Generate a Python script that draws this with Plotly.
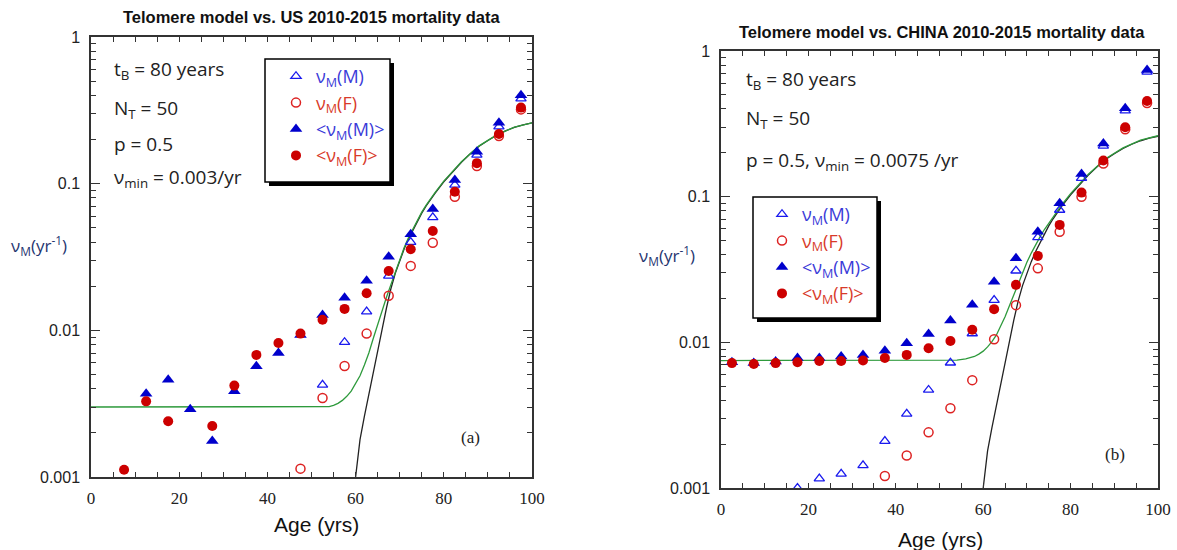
import plotly.graph_objects as go

W, H = 1177, 550

ages = [2.5, 7.5, 12.5, 17.5, 22.5, 27.5, 32.5, 37.5, 42.5, 47.5,
        52.5, 57.5, 62.5, 67.5, 72.5, 77.5, 82.5, 87.5, 92.5, 97.5]

# ---- US 2010-2015 ----
us_nu_m = [None, None, None, None, None, None, None, None, None, None,
           0.00425, 0.0083, 0.0134, 0.0235, 0.040, 0.059, 0.098, 0.157, 0.245, 0.38]
us_nu_f = [None, None, None, None, None, None, None, None, None, 0.00114,
           0.00346, 0.00572, 0.0095, 0.0172, 0.0275, 0.0396, 0.0815, 0.132, 0.211, 0.321]
us_avg_m = [None, None, 0.0037, 0.0046, 0.0029, 0.00176, 0.00385, 0.0057, 0.0070, 0.0093,
            0.0127, 0.0167, 0.0218, 0.0318, 0.0452, 0.0672, 0.106, 0.165, 0.26, 0.40]
us_avg_f = [None, 0.00112, 0.00328, 0.0024, None, 0.00223, 0.0042, 0.0068, 0.0082, 0.0095,
            0.0118, 0.014, 0.0179, 0.0254, 0.0357, 0.0476, 0.088, 0.138, 0.218, 0.33]

# ---- CHINA 2010-2015 ----
cn_nu_m = [None, None, None, 0.0010, 0.00116, 0.00125, 0.00143, 0.0021, 0.00323, 0.00471,
           0.00724, 0.0115, 0.0195, 0.031, 0.0526, 0.081, 0.134, 0.223, 0.39, 0.72]
cn_nu_f = [None, None, None, None, None, None, None, 0.00121, 0.00167, 0.00241,
           0.00353, 0.0055, 0.0105, 0.018, 0.0322, 0.0575, 0.100, 0.169, 0.29, 0.44]
cn_avg_m = [0.0073, 0.0072, 0.0074, 0.0078, 0.0078, 0.0080, 0.0082, 0.00877, 0.00986, 0.0114,
            0.0141, 0.0181, 0.0261, 0.0378, 0.0575, 0.090, 0.143, 0.232, 0.404, 0.74]
cn_avg_f = [0.0072, 0.0071, 0.0072, 0.0073, 0.00745, 0.00745, 0.0075, 0.0078, 0.0082, 0.0091,
            0.0102, 0.0122, 0.0169, 0.0248, 0.0392, 0.064, 0.1066, 0.177, 0.30, 0.454]

# ---- model curves ----
black_t = [60, 61, 62, 63, 64, 65, 66, 67, 68, 69, 70, 71, 72, 73, 74, 75, 76, 77, 78,
           80, 82, 84, 86, 88, 90, 92, 94, 96, 98, 100]
black_v = [0.001, 0.0018, 0.0026, 0.0036, 0.0051, 0.0072, 0.0101, 0.0142, 0.0192, 0.0245,
           0.030, 0.0358, 0.042, 0.0485, 0.0555, 0.063, 0.0705, 0.078, 0.086,
           0.103, 0.12, 0.14, 0.16, 0.18, 0.197, 0.214, 0.229, 0.242, 0.252, 0.26]

us_green_t = [0, 53, 54, 55, 56, 57, 58, 59, 60, 61, 62, 63, 64, 65, 66, 67, 68, 69, 70,
              71, 72, 73, 74, 75, 76, 77, 78, 80, 84, 88, 92, 96, 100]
us_green_v = [0.003, 0.003, 0.00302, 0.00308, 0.00318, 0.00333, 0.00355, 0.00385, 0.0043,
              0.0049, 0.0058, 0.0070, 0.0088, 0.0110, 0.0138, 0.0168, 0.0205, 0.025, 0.0305,
              0.0365, 0.043, 0.0495, 0.0565, 0.064, 0.0715, 0.079, 0.087, 0.104, 0.141,
              0.181, 0.215, 0.243, 0.26]

cn_green_t = [0, 52, 54, 56, 58, 59, 60, 61, 62, 63, 64, 65, 66, 67, 68, 69, 70, 71, 72,
              73, 74, 75, 76, 77, 78, 80, 84, 88, 92, 96, 100]
cn_green_v = [0.0075, 0.0075, 0.00755, 0.0077, 0.0080, 0.0083, 0.0087, 0.0093, 0.0101,
              0.0112, 0.0128, 0.015, 0.0178, 0.0212, 0.0253, 0.030, 0.0355, 0.041, 0.047,
              0.053, 0.0595, 0.066, 0.073, 0.080, 0.088, 0.105, 0.142, 0.182, 0.216,
              0.244, 0.262]

y_ticks = [0.001, 0.01, 0.1, 1]
y_tick_text = ["0.001", "0.01", "0.1", "1"]
y_minor = [m * d for d in (0.001, 0.01, 0.1) for m in range(2, 10)]

BLUE = "#0000cc"
RED = "#cc0000"
OBLUE = "#1a1aee"
ORED = "#dd2222"
GREEN = "#2e9a3c"
TXT_BLUE = "#3a3ad8"
TXT_RED = "#d83a2a"


def X(px):
    return px / W


def Y(py):
    return 1 - py / H


fig = go.Figure()


def add_panel(xa, ya, legend, green_t, green_v, nm, nf, am, af):
    fig.add_trace(go.Scatter(x=black_t, y=black_v, mode="lines",
                             line=dict(color="#222222", width=1.3),
                             xaxis=xa, yaxis=ya, showlegend=False, hoverinfo="skip"))
    fig.add_trace(go.Scatter(x=green_t, y=green_v, mode="lines",
                             line=dict(color=GREEN, width=1.3),
                             xaxis=xa, yaxis=ya, showlegend=False, hoverinfo="skip"))
    fig.add_trace(go.Scatter(
        x=ages, y=nm, mode="markers", xaxis=xa, yaxis=ya, legend=legend,
        name=f"<span style='color:{TXT_BLUE}'>ν<sub>M</sub>(M)</span>",
        marker=dict(symbol="triangle-up-open", size=9, color=OBLUE, line=dict(width=1.3))))
    fig.add_trace(go.Scatter(
        x=ages, y=nf, mode="markers", xaxis=xa, yaxis=ya, legend=legend,
        name=f"<span style='color:{TXT_RED}'>ν<sub>M</sub>(F)</span>",
        marker=dict(symbol="circle-open", size=9, color=ORED, line=dict(width=1.5))))
    fig.add_trace(go.Scatter(
        x=ages, y=am, mode="markers", xaxis=xa, yaxis=ya, legend=legend,
        name=f"<span style='color:{TXT_BLUE}'>&lt;ν<sub>M</sub>(M)&gt;</span>",
        marker=dict(symbol="triangle-up", size=11, color=BLUE)))
    fig.add_trace(go.Scatter(
        x=ages, y=af, mode="markers", xaxis=xa, yaxis=ya, legend=legend,
        name=f"<span style='color:{TXT_RED}'>&lt;ν<sub>M</sub>(F)&gt;</span>",
        marker=dict(symbol="circle", size=10, color=RED)))


add_panel("x", "y", "legend", us_green_t, us_green_v, us_nu_m, us_nu_f, us_avg_m, us_avg_f)
add_panel("x2", "y2", "legend2", cn_green_t, cn_green_v, cn_nu_m, cn_nu_f, cn_avg_m, cn_avg_f)


def xaxis(domain, anchor):
    return dict(domain=domain, anchor=anchor, range=[0, 100], dtick=20, tick0=0,
                automargin=False,
                ticks="inside", ticklen=5, tickwidth=1, tickcolor="#333",
                minor=dict(dtick=5, ticks="inside", ticklen=5, tickcolor="#333"),
                showline=True, linecolor="#333", linewidth=1.5, mirror="allticks",
                showgrid=False, zeroline=False, ticklabelstandoff=5,
                tickfont=dict(family="Liberation Serif", size=17, color="#222"))


def yaxis(domain, anchor):
    return dict(domain=domain, anchor=anchor, type="log", range=[-3, 0],
                automargin=False,
                tickvals=y_ticks, ticktext=y_tick_text,
                ticks="inside", ticklen=9, tickwidth=1, tickcolor="#333",
                minor=dict(tickvals=y_minor, ticks="inside", ticklen=5, tickcolor="#333"),
                showline=True, linecolor="#333", linewidth=1.5, mirror="allticks",
                showgrid=False, zeroline=False, ticklabelstandoff=6,
                tickfont=dict(family="Liberation Sans", size=16, color="#222"))


fig.update_layout(
    width=W, height=H, margin=dict(l=0, r=0, t=0, b=0, autoexpand=False),
    paper_bgcolor="white", plot_bgcolor="white",
    xaxis=xaxis([X(91), X(532)], "y"),
    yaxis=yaxis([Y(477), Y(37)], "x"),
    xaxis2=xaxis([X(721), X(1158)], "y2"),
    yaxis2=yaxis([Y(488), Y(51)], "x2"),
    legend=dict(x=X(276), y=Y(58), xanchor="left", yanchor="top",
                bgcolor="rgba(0,0,0,0)", borderwidth=0,
                font=dict(family="Open Sans", size=18)),
    legend2=dict(x=X(762), y=Y(196), xanchor="left", yanchor="top",
                 bgcolor="rgba(0,0,0,0)", borderwidth=0,
                 font=dict(family="Open Sans", size=18)),
    showlegend=True,
)

shapes = []
for (x0, y0, x1, y1) in [(265, 59, 390, 182), (753, 197, 877, 318)]:
    shapes.append(dict(type="rect", xref="paper", yref="paper",
                       x0=X(x0 + 4), x1=X(x1 + 4), y0=Y(y1 + 4), y1=Y(y0 + 4),
                       fillcolor="black", line=dict(width=0), layer="above"))
    shapes.append(dict(type="rect", xref="paper", yref="paper",
                       x0=X(x0), x1=X(x1), y0=Y(y1), y1=Y(y0),
                       fillcolor="white", line=dict(color="black", width=1.5), layer="above"))
fig.update_layout(shapes=shapes)

ann = []


def text(px, py, s, size=19, family="Open Sans", color="#222", xanchor="left", bold=False):
    if bold:
        s = f"<b>{s}</b>"
    ann.append(dict(x=X(px), y=Y(py), xref="paper", yref="paper", text=s, showarrow=False,
                    xanchor=xanchor, yanchor="middle",
                    font=dict(family=family, size=size, color=color)))


# titles
text(311, 17, "Telomere model vs. US 2010-2015 mortality data", size=16.5,
     family="Liberation Sans", xanchor="center", bold=True, color="#111")
text(942, 32, "Telomere model vs. CHINA 2010-2015 mortality data", size=16.5,
     family="Liberation Sans", xanchor="center", bold=True, color="#111")

# parameters, left
text(112, 70, "t<sub>B</sub> = 80 years")
text(112, 109, "N<sub>T</sub> = 50")
text(112, 144, "p = 0.5")
text(112, 178, "ν<sub>min</sub> = 0.003/yr")
# parameters, right
text(744, 80, "t<sub>B</sub> = 80 years")
text(744, 119, "N<sub>T</sub> = 50")
text(744, 161, "p = 0.5, ν<sub>min</sub> = 0.0075 /yr")

# panel labels
text(470, 437, "(a)", size=17, family="Liberation Serif", xanchor="center")
text(1115, 454, "(b)", size=17, family="Liberation Serif", xanchor="center")

# axis titles
text(316, 524, "Age (yrs)", size=21, family="Liberation Sans", xanchor="center", color="#111")
text(940, 539, "Age (yrs)", size=21, family="Liberation Sans", xanchor="center", color="#111")
text(39, 245, "ν<sub>M</sub>(yr<sup>-1</sup>)", size=17, family="Open Sans",
     xanchor="center", color="#1f3570")
text(667, 255, "ν<sub>M</sub>(yr<sup>-1</sup>)", size=17, family="Open Sans",
     xanchor="center", color="#1f3570")

fig.update_layout(annotations=ann)

fig.write_html("out.html")
